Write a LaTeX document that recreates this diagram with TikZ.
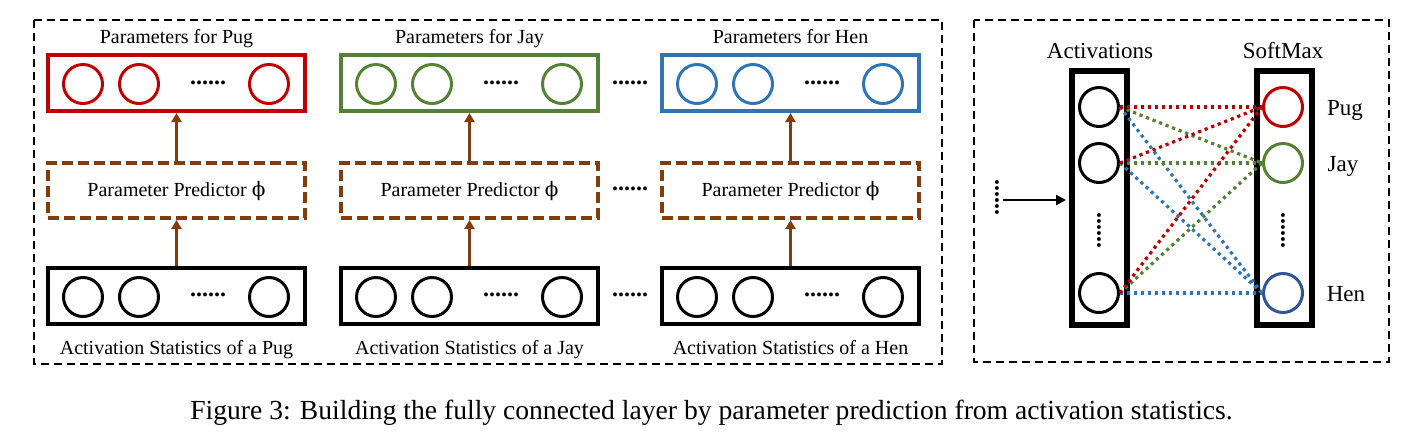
\documentclass[tikz,border=0pt]{standalone}
\usepackage{fontspec}
\setmainfont{Liberation Serif}
\newfontfamily\phifont{DejaVu Serif}
\usetikzlibrary{arrows.meta,calc}
\definecolor{cred}{HTML}{C00000}
\definecolor{cgreen}{HTML}{548235}
\definecolor{cblue}{HTML}{2E75B6}
\definecolor{cdblue}{HTML}{2F5597}
\definecolor{cbrown}{HTML}{843C0C}
\begin{document}
\begin{tikzpicture}[x=0.5pt,y=-0.5pt,
  frame/.style={draw=black, line width=1pt, dash pattern=on 4pt off 2.5pt},
  parbox/.style={draw, line width=2pt, minimum width=128.5pt, minimum height=28pt, inner sep=0pt},
  predbox/.style={draw=cbrown, line width=2pt, dash pattern=on 5.5pt off 2.5pt, minimum width=128.5pt, minimum height=27.5pt, inner sep=0pt, font=\fontsize{10}{12}\selectfont},
  pcirc/.style={circle, draw, line width=1.5pt, minimum size=19.5pt, inner sep=0pt},
  lbl/.style={inner sep=0pt, anchor=base, font=\fontsize{10}{12}\selectfont},
  rlbl/.style={inner sep=0pt, anchor=base, font=\fontsize{11.5}{13}\selectfont},
  hdots/.style={inner sep=0pt, font=\bfseries\fontsize{12}{14}\selectfont},
  vdots/.style={inner sep=0pt, rotate=90, font=\bfseries\fontsize{12}{14}\selectfont},
  barrow/.style={draw=cbrown, line width=1.5pt, -{Triangle[length=4.5pt,width=5pt]}},
  colbox/.style={draw, line width=3pt, minimum width=27.5pt, minimum height=127pt, inner sep=0pt},
  conn/.style={line width=1.6pt, dash pattern=on 1.6pt off 1.9pt}
]
\useasboundingbox (0,0) rectangle (1427,446);
% frames
\draw[frame] (34,20) rectangle (942,364);
\draw[frame] (974,20) rectangle (1389,362);
% three columns
\foreach \L/\c/\n/\nm in {46/cred/1/Pug, 339/cgreen/2/Jay, 660/cblue/3/Hen} {
  \pgfmathsetmacro\C{\L+130.5}
  \node[lbl] (tp\n) at (\C,43) {Parameters for \nm};
  \node[parbox, draw=\c] (par\n) at (\C,83) {};
  \node[pcirc, draw=\c] (par\n c1) at (\L+37,84) {};
  \node[pcirc, draw=\c] (par\n c2) at (\L+93,84) {};
  \node[hdots] (par\n d) at (\L+162,83) {......};
  \node[pcirc, draw=\c] (par\n c3) at (\L+223,84) {};
  \node[predbox] (pred\n) at (\C,190.5) {Parameter Predictor {\phifont ϕ}};
  \node[parbox] (act\n) at (\C,296) {};
  \node[pcirc] (act\n c1) at (\L+37,297) {};
  \node[pcirc] (act\n c2) at (\L+93,297) {};
  \node[hdots] (act\n d) at (\L+162,295) {......};
  \node[pcirc] (act\n c3) at (\L+223,297) {};
  \node[lbl] (ta\n) at (\C,354) {Activation Statistics of a \nm};
  \draw[barrow] (pred\n.north) -- (par\n.south);
  \draw[barrow] (act\n.north) -- (pred\n.south);
}
\node[hdots] (gap1) at (630,83) {......};
\node[hdots] (gap2) at (630,189) {......};
\node[hdots] (gap3) at (630,295) {......};
% right panel
\node[rlbl] (tA) at (1100,58) {Activations};
\node[rlbl] (tS) at (1283,58) {SoftMax};
\node[colbox] (A) at (1099.5,198) {};
\node[colbox] (S) at (1284,198) {};
\node[pcirc] (a1) at (1099,107) {};
\node[pcirc] (a2) at (1099,163) {};
\node[pcirc] (a3) at (1099,293) {};
\node[vdots] (ad) at (1099,230) {......};
\node[pcirc, draw=cred] (s1) at (1283,107) {};
\node[pcirc, draw=cgreen] (s2) at (1283,163) {};
\node[pcirc, draw=cdblue] (s3) at (1283,293) {};
\node[vdots] (sd) at (1283,230) {......};
\node[rlbl] (lPug) at (1345,115) {Pug};
\node[rlbl] (lJay) at (1343,171) {Jay};
\node[rlbl] (lHen) at (1346,301) {Hen};
\node[vdots] (ind) at (997,197) {......};
\coordinate (inp) at (1003,200);
\draw[line width=1.2pt, -{Triangle[length=5pt,width=5pt]}, shorten >=1.5pt] (inp) -- (inp -| A.west);
\foreach \a in {a1,a2,a3} {
  \draw[conn, cblue] (\a.east) -- (s3.west);
  \draw[conn, cgreen] (\a.east) -- (s2.west);
  \draw[conn, cred] (\a.east) -- (s1.west);
}
% caption
\node[inner sep=0pt, font=\fontsize{13.8}{16}\selectfont] (cap) at (711.5,413) {Figure 3: Building the fully connected layer by parameter prediction from activation statistics.};
\end{tikzpicture}
\end{document}
